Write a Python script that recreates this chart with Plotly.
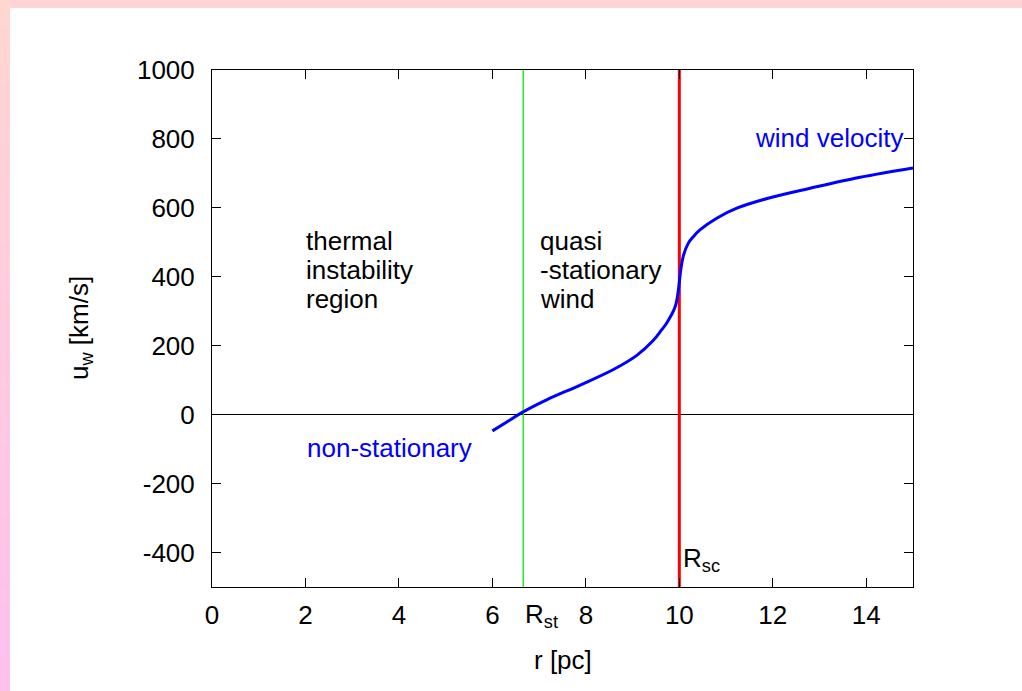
import plotly.graph_objects as go

# ---- data ----
r_vals = [6.00, 6.30, 6.63, 7.16, 7.88, 8.59, 9.09, 9.44, 9.62, 9.73, 9.91, 9.98,
          10.03, 10.09, 10.19, 10.29, 10.44, 10.80, 11.23, 11.90, 12.80, 13.87, 15.00]
u_vals = [-47, -22, 6, 43, 86, 131, 172, 215, 246, 266, 313, 362,
          420, 463, 497, 515, 536, 570, 599, 628, 657, 689, 716]
R_st = 6.66
R_sc = 10.0
x_ticks = [0, 2, 4, 6, 8, 10, 12, 14]
y_ticks = [-400, -200, 0, 200, 400, 600, 800, 1000]
region_left = ["thermal", "instability", "region"]
region_mid = ["quasi", "-stationary", "wind"]

FONT = "Liberation Sans, Arial, Helvetica, sans-serif"
FS = 26

W, H = 1022, 691
L, R, T, B = 212, 109, 70, 104
pw, ph = W - L - R, H - T - B


def px_x(px):
    return (px - L) / pw


def px_y(py):
    return 1 - (py - T) / ph


fig = go.Figure()
fig.add_trace(go.Scatter(x=[R_st, R_st], y=[-500, 1000], mode="lines",
                         line=dict(color="#22ee22", width=1.5), hoverinfo="skip"))
fig.add_trace(go.Scatter(x=[R_sc, R_sc], y=[-500, 1000], mode="lines",
                         line=dict(color="#ff0000", width=3), hoverinfo="skip"))
fig.add_trace(go.Scatter(x=r_vals, y=u_vals, mode="lines",
                         line=dict(color="#0000ff", width=3, shape="spline", smoothing=1.0)))

# pink frame (gradient approximated by strips)
shapes = [dict(type="rect", xref="paper", yref="paper", layer="below",
               x0=px_x(0), x1=px_x(W), y0=px_y(8), y1=px_y(0),
               fillcolor="#ffd4d4", line_width=0)]
n = 48
c0 = (255, 214, 208)
c1 = (255, 192, 240)
for i in range(n):
    t = i / (n - 1)
    c = tuple(round(c0[k] + (c1[k] - c0[k]) * t) for k in range(3))
    y0p = H * i / n
    y1p = H * (i + 1) / n + 1
    shapes.append(dict(type="rect", xref="paper", yref="paper", layer="below",
                       x0=px_x(0), x1=px_x(10),
                       y0=px_y(y1p), y1=px_y(y0p),
                       fillcolor="rgb(%d,%d,%d)" % c, line_width=0))

annotations = []
line_y = [504, 420, 336]
for txt, yy in zip(region_left, line_y):
    annotations.append(dict(x=1.99, y=yy, text=txt, xanchor="left", yanchor="middle",
                            showarrow=False, borderpad=0,
                            font=dict(color="black", size=FS, family=FONT)))
for txt, yy in zip(region_mid, line_y):
    annotations.append(dict(x=7.0, y=yy, text=txt, xanchor="left", yanchor="middle",
                            showarrow=False, borderpad=0,
                            font=dict(color="black", size=FS, family=FONT)))
annotations.append(dict(x=2.0, y=-97, text="non-stationary", xanchor="left", yanchor="middle",
                        showarrow=False, font=dict(color="#0000ff", size=FS, family=FONT)))
annotations.append(dict(x=14.83, y=803, text="wind velocity", xanchor="right", yanchor="middle",
                        showarrow=False, font=dict(color="#0000ff", size=FS, family=FONT)))
annotations.append(dict(x=R_sc + 0.04, y=-420, text="R<sub>sc</sub>", xanchor="left",
                        yanchor="middle", showarrow=False,
                        font=dict(color="black", size=FS, family=FONT)))
annotations.append(dict(x=R_st, y=-500, yshift=-10, text="R<sub>st</sub>", xanchor="left",
                        yanchor="top", showarrow=False,
                        font=dict(color="black", size=FS, family=FONT)))
# axis titles
annotations.append(dict(xref="paper", yref="paper", x=px_x(563), y=px_y(660),
                        text="r [pc]", xanchor="center", yanchor="middle", showarrow=False,
                        font=dict(color="black", size=FS, family=FONT)))
annotations.append(dict(xref="paper", yref="paper", x=px_x(80), y=px_y(328),
                        text="u<sub>w</sub> [km/s]", textangle=-90,
                        xanchor="center", yanchor="middle", showarrow=False,
                        font=dict(color="black", size=FS, family=FONT)))

fig.update_layout(
    width=W, height=H,
    margin=dict(l=L, r=R, t=T, b=B),
    paper_bgcolor="white", plot_bgcolor="white",
    showlegend=False,
    font=dict(family=FONT, size=FS, color="black"),
    shapes=shapes,
    annotations=annotations,
    xaxis=dict(range=[0, 15], tickvals=x_ticks, ticktext=[str(v) for v in x_ticks],
               ticks="inside", ticklen=9, tickcolor="black", tickwidth=1,
               showline=True, linecolor="black", linewidth=1, mirror="allticks",
               showgrid=False, zeroline=False, ticklabelstandoff=5,
               tickfont=dict(size=FS)),
    yaxis=dict(range=[-500, 1000], tickvals=y_ticks, ticktext=[str(v) for v in y_ticks],
               ticks="inside", ticklen=9, tickcolor="black", tickwidth=1,
               showline=True, linecolor="black", linewidth=1, mirror="allticks",
               showgrid=False, zeroline=True, zerolinecolor="black", zerolinewidth=1,
               ticklabelstandoff=11,
               tickfont=dict(size=FS)),
)

fig.write_html("out.html", config={"displayModeBar": False},
               post_script="document.body.style.margin='0px';document.body.style.overflow='hidden';")
